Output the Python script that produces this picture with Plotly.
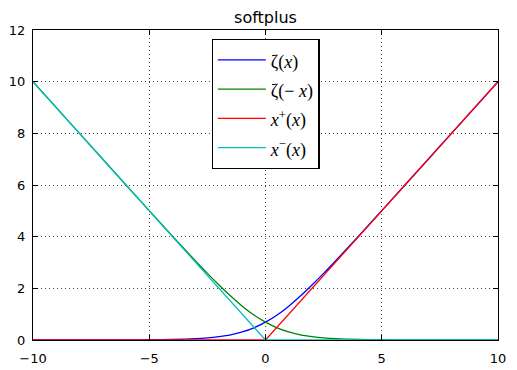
import plotly.graph_objects as go

# data
x_curve = [-10, -8, -6, -5, -4, -3, -2.5, -2, -1.5, -1, -0.5, 0, 0.5, 1, 1.5, 2, 2.5, 3, 4, 5, 6, 8, 10]
zeta_pos = [0.00, 0.00, 0.00, 0.01, 0.02, 0.05, 0.08, 0.13, 0.20, 0.31, 0.47, 0.69, 0.97, 1.31, 1.70,
            2.13, 2.58, 3.05, 4.02, 5.01, 6.00, 8.00, 10.00]
zeta_neg = [10.00, 8.00, 6.00, 5.01, 4.02, 3.05, 2.58, 2.13, 1.70, 1.31, 0.97, 0.69, 0.47, 0.31, 0.20,
            0.13, 0.08, 0.05, 0.02, 0.01, 0.00, 0.00, 0.00]
x_hinge = [-10, 0, 10]
x_plus = [0, 0, 10]
x_minus = [10, 0, 0]

labels = ["ζ(<i>x</i>)", "ζ(− <i>x</i>)", "<i>x</i><sup>+</sup>(<i>x</i>)", "<i>x</i><sup>−</sup>(<i>x</i>)"]
colors = ["#0000ff", "#008000", "#ff0000", "#00bfbf"]
x_ticks = [-10, -5, 0, 5, 10]
x_tick_text = ["−10", "−5", "0", "5", "10"]
y_ticks = [0, 2, 4, 6, 8, 10, 12]

fig = go.Figure()
series = [(x_curve, zeta_pos, "spline"), (x_curve, zeta_neg, "spline"),
          (x_hinge, x_plus, "linear"), (x_hinge, x_minus, "linear")]
for (xs, ys, shape), lab, c in zip(series, labels, colors):
    fig.add_trace(go.Scatter(x=xs, y=ys, mode="lines",
                             name='<span style="font-size:18px">' + lab + '</span>',
                             line=dict(color=c, width=1.3, shape=shape)))

axis_common = dict(showline=True, linecolor="black", linewidth=1.3, mirror="ticks",
                   ticks="inside", ticklen=5, tickcolor="black", tickwidth=1,
                   showgrid=True, gridcolor="#444444", gridwidth=1, griddash="1px,3px",
                   zeroline=False, automargin=False,
                   tickfont=dict(family="DejaVu Sans", size=13, color="black"))

fig.update_xaxes(range=[-10, 10], tickvals=x_ticks, ticktext=x_tick_text,
                 ticklabelstandoff=6, **axis_common)
fig.update_yaxes(range=[0, 12], tickvals=y_ticks, ticklabelstandoff=4, **axis_common)

fig.update_layout(
    width=517, height=370,
    margin=dict(l=33, r=19, t=30, b=30),
    paper_bgcolor="white", plot_bgcolor="white",
    title=dict(text="softplus", x=0.5135, xanchor="center", y=1 - 17 / 370, yanchor="middle",
               font=dict(family="DejaVu Sans", size=16, color="black")),
    legend=dict(x=0.384, y=0.971, xanchor="left", yanchor="top",
                bordercolor="black", borderwidth=1.3, bgcolor="white",
                font=dict(family="Liberation Serif", size=20.2, color="black"),
                tracegroupgap=0, itemwidth=48),
    showlegend=True,
)

fig.write_html("out.html")
